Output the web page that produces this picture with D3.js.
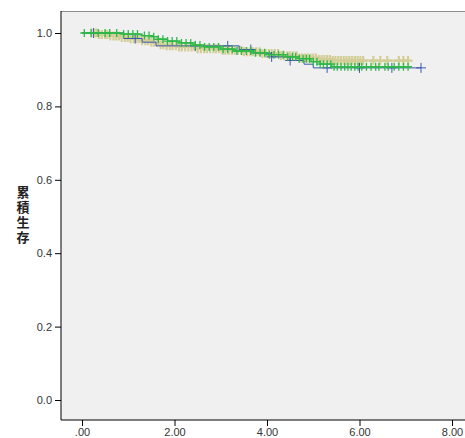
<html lang="en">
  <head>
    <meta charset="utf-8">
    <script src="https://d3js.org/d3.v7.min.js"></script>
    <style type="text/css">
body {
  margin: 0;
  background: #ffffff;
  font-family: Arial, "Liberation Sans", Sans-serif;
}
    </style>
  </head>
  <body>
    <div id="chart"></div>

    <script type="text/javascript">
const width = 465;
const height = 438;

// survival steps: [time, cumulative survival after the drop]
const blueSteps = [[0, 1], [0.9, 0.985], [1.3, 0.975], [1.6, 0.965], [3.4, 0.955],
  [3.7, 0.945], [4.1, 0.935], [4.5, 0.925], [4.8, 0.915], [5.0, 0.905]];
const blueEnd = 7.33;
const blueCensor = [0.25, 1.15, 2.45, 3.15, 3.65, 4.1, 4.5, 5.3, 6.0, 6.7, 7.33];

const tanSteps = [[0, 1], [0.35, 0.996], [0.6, 0.992], [0.85, 0.988], [1.05, 0.984],
  [1.3, 0.979], [1.5, 0.975], [1.65, 0.968], [1.8, 0.965], [2.1, 0.962], [2.5, 0.957],
  [3.0, 0.953], [3.5, 0.949], [3.9, 0.944], [4.3, 0.938], [4.7, 0.932], [5.1, 0.928],
  [5.4, 0.925]];
const tanEnd = 7.05;
const tanCensor = [0.2, 0.26, 0.31, 0.37, 0.43, 0.5, 0.55, 0.61, 0.68, 0.74, 0.8, 0.86,
  0.93, 0.99, 1.05, 1.12, 1.18, 1.24, 1.3, 1.37, 1.43, 1.5, 1.56, 1.62, 1.7, 1.76, 1.83,
  1.9, 1.96, 2.03, 2.1, 2.16, 2.23, 2.3, 2.37, 2.44, 2.5, 2.57, 2.64, 2.7, 2.77, 2.84,
  2.9, 2.97, 3.04, 3.1, 3.17, 3.24, 3.3, 3.37, 3.44, 3.5, 3.57, 3.64, 3.7, 3.77, 3.84,
  3.9, 3.97, 4.04, 4.1, 4.17, 4.24, 4.3, 4.37, 4.44, 4.5, 4.57, 4.64, 4.7, 4.76, 4.82,
  4.88, 4.94, 5.0, 5.06, 5.12, 5.18, 5.24, 5.3, 5.36, 5.42, 5.48, 5.54, 5.6, 5.66,
  5.72, 5.78, 5.84, 5.9, 5.96, 6.02, 6.08, 6.3, 6.45, 6.6, 6.85, 6.95, 7.05];

const greenSteps = [[0, 1], [0.9, 0.997], [1.3, 0.993], [1.5, 0.99], [1.65, 0.983],
  [1.85, 0.978], [2.1, 0.973], [2.4, 0.967], [2.65, 0.962], [3.0, 0.956], [3.3, 0.951],
  [3.7, 0.946], [4.0, 0.941], [4.4, 0.935], [4.7, 0.93], [4.95, 0.922], [5.15, 0.915],
  [5.4, 0.908]];
const greenEnd = 7.08;
const greenCensor = [0.05, 0.2, 0.35, 0.5, 0.6, 0.75, 0.9, 1.0, 1.1, 1.2, 1.35, 1.45,
  1.55, 1.65, 1.75, 1.85, 1.95, 2.05, 2.15, 2.25, 2.35, 2.45, 2.55, 2.65, 2.75, 2.85,
  2.95, 3.05, 3.15, 3.25, 3.35, 3.45, 3.55, 3.65, 3.75, 3.85, 3.95, 4.05, 4.15, 4.25,
  4.35, 4.45, 4.55, 4.62, 4.7, 4.78, 4.85, 4.92, 5.0, 5.08, 5.15, 5.22, 5.3, 5.38,
  5.45, 5.52, 5.6, 5.68, 5.75, 5.82, 5.9, 5.97, 6.05, 6.15, 6.25, 6.35, 6.42, 6.55,
  6.62, 6.75, 6.85, 6.95, 7.05];

const xTicks = [0, 2, 4, 6, 8];
const xTickLabels = [".00", "2.00", "4.00", "6.00", "8.00"];
const yTicks = [0, 0.2, 0.4, 0.6, 0.8, 1.0];
const yLabel = "累積生存";

const plot = {left: 61, top: 11, right: 465, bottom: 420};

const x = d3.scaleLinear().domain([0, 8]).range([82, 452]);
const y = d3.scaleLinear().domain([0, 1]).range([400, 33]);

function survAt(steps, t) {
  let v = steps[0][1];
  for (let i = 0; i < steps.length; i++) {
    if (steps[i][0] <= t) v = steps[i][1];
  }
  return v;
}

let svg = d3.select("#chart").append("svg")
  .attr("width", width)
  .attr("height", height);

svg.append("rect")
  .attr("x", plot.left)
  .attr("y", plot.top)
  .attr("width", plot.right - plot.left)
  .attr("height", plot.bottom - plot.top)
  .attr("fill", "#f0f0f0");

svg.append("line")
  .attr("x1", plot.left).attr("x2", plot.right)
  .attr("y1", plot.top + 0.5).attr("y2", plot.top + 0.5)
  .attr("stroke", "#8c8c8c");

let line = d3.line()
  .x(d => x(d[0]))
  .y(d => y(d[1]))
  .curve(d3.curveStepAfter);

let curves = [
  {steps: tanSteps, end: tanEnd, censor: tanCensor, color: "#d3ce97", sw: 2.2, arm: 4.5},
  {steps: blueSteps, end: blueEnd, censor: blueCensor, color: "#3e58ac", sw: 1, arm: 5},
  {steps: greenSteps, end: greenEnd, censor: greenCensor, color: "#2eb848", sw: 1.3, arm: 4}
];

curves.forEach(c => {
  let pts = c.steps.concat([[c.end, c.steps[c.steps.length - 1][1]]]);
  let g = svg.append("g");
  g.append("path")
    .attr("d", line(pts))
    .attr("fill", "none")
    .attr("stroke", c.color)
    .attr("stroke-width", c.sw);
  g.selectAll("path.censor")
    .data(c.censor)
    .join("path")
      .attr("class", "censor")
      .attr("d", t => {
        let cx = x(t), cy = y(survAt(c.steps, t));
        return `M${cx - c.arm},${cy}H${cx + c.arm}M${cx},${cy - c.arm}V${cy + c.arm}`;
      })
      .attr("fill", "none")
      .attr("stroke", c.color)
      .attr("stroke-width", c.sw);
});

// axes
let xAxis = svg.append("g")
  .attr("transform", `translate(0,${plot.bottom})`)
  .call(d3.axisBottom(x).tickValues(xTicks).tickSize(6)
    .tickFormat((d, i) => xTickLabels[i]));
xAxis.select(".domain").remove();
xAxis.append("line")
  .attr("x1", plot.left).attr("x2", plot.right)
  .attr("stroke", "#000");

let yAxis = svg.append("g")
  .attr("transform", `translate(${plot.left},0)`)
  .call(d3.axisLeft(y).tickValues(yTicks).tickSize(6).tickFormat(d3.format(".1f")));
yAxis.select(".domain").remove();
yAxis.append("line")
  .attr("y1", plot.top).attr("y2", plot.bottom)
  .attr("stroke", "#000");

svg.selectAll(".tick text")
  .attr("font-family", "Arial, 'Liberation Sans', sans-serif")
  .attr("font-size", 11)
  .attr("fill", "#333");
svg.selectAll(".tick line").attr("stroke", "#000");
xAxis.selectAll(".tick text").attr("y", 8).attr("dy", "0.71em");

// vertical y title, one character above the next
svg.append("text")
  .attr("x", 23)
  .attr("y", 186)
  .attr("writing-mode", "vertical-rl")
  .style("text-orientation", "upright")
  .attr("font-family", "'Noto Sans CJK TC', 'Noto Sans CJK SC', sans-serif")
  .attr("font-weight", "bold")
  .attr("font-size", 13)
  .attr("letter-spacing", 2)
  .attr("fill", "#222")
  .text(yLabel);
    </script>
  </body>
</html>
